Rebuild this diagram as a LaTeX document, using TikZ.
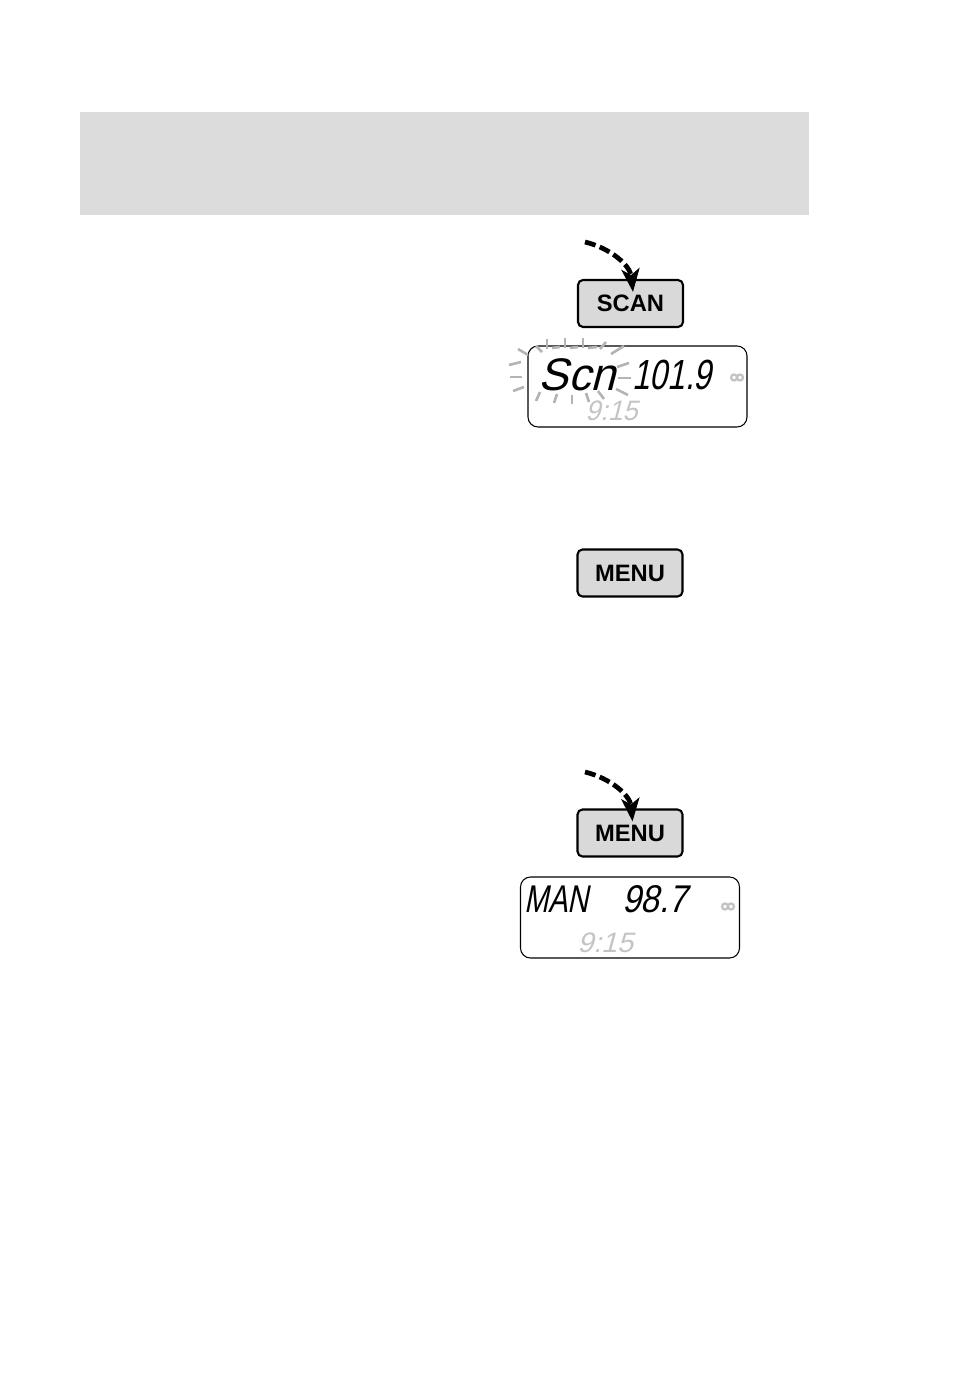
\documentclass[tikz,border=0pt]{standalone}
\usepackage{fontspec}
\usetikzlibrary{arrows.meta, positioning, calc}
\newfontfamily\btnfont{Liberation Sans}
\newfontfamily\lcdfont[FakeSlant=0.2,FakeStretch=0.75]{Liberation Sans}
\definecolor{banner}{HTML}{DCDCDC}
\definecolor{btnfill}{HTML}{D9D9D9}
\definecolor{dim}{HTML}{C4C4C4}
\definecolor{glow}{HTML}{B4B4B4}

\begin{document}
\begin{tikzpicture}[
    x=0.2mm, y=-0.2mm,
    button/.style={draw, line width=1.2pt, rounded corners=1mm, fill=btnfill, minimum width=21mm, minimum height=9.4mm, inner sep=0pt, font=\btnfont\bfseries\fontsize{13.5}{13.5}\selectfont},
    lcd/.style={draw, line width=0.6pt, rounded corners=2mm, minimum width=43.8mm, minimum height=16.2mm, inner sep=0pt},
    seg/.style={inner sep=0pt, anchor=base west},
    press/.style={->, line width=0.95mm, dash pattern=on 2.2mm off 0.9mm},
    ray/.style={glow, line width=1.5pt},
    stereo/.style={dim, line width=1.3pt},
    >={Stealth[length=4.6mm, width=3.6mm, inset=1.2mm]}
]
\useasboundingbox (0,0) rectangle (954,1398);
\fill[banner] (80,112) rectangle (809,215);

\node[button] (scan) at (630.5,303.5) {SCAN};
\node[lcd] (disp1) at (637.5,386.5) {};
\node[seg, font=\lcdfont\fontsize{26}{26}\selectfont, xscale=1.3] (scn) at (538,390) {Scn};
\node[seg, font=\lcdfont\fontsize{24}{24}\selectfont] (freq1) at (632,389) {101.9};
\node[seg, font=\lcdfont\fontsize{16}{16}\selectfont, text=dim, xscale=1.27] (time1) at (585,421) {9:15};
\draw[stereo] (734,377.5) circle (3) (740,377.5) circle (3);
\foreach \a/\b in {{518,349}/{528,355}, {509,365}/{521,362}, {510,377}/{522,377}, {513,391}/{524,387},
    {536,346}/{542,352}, {547,339}/{547,349}, {552,348}/{560,347}, {565,338}/{565,348},
    {570,348}/{578,347}, {583,338}/{583,348}, {588,348}/{597,347}, {600,349}/{606,342},
    {611,354}/{624,346}, {617,367}/{629,363}, {618,378}/{631,378}, {616,389}/{628,395},
    {536,401}/{540,392}, {554,403}/{557,394}, {572,404}/{572,395}, {589,402}/{586,393}, {604,399}/{598,391}}
  \draw[ray] (\a) -- (\b);
\coordinate (from1) at (585,242);
\draw[press] (from1) .. controls (610,248) and (630,265) .. ([xshift=0.5mm, yshift=-2.6mm]scan.north);

\node[button] (menu1) at (630,573) {MENU};

\node[button] (menu2) at (630,833) {MENU};
\node[lcd] (disp2) at (630,917.5) {};
\node[seg, font=\lcdfont\fontsize{22}{22}\selectfont] (mode2) at (524,912) {MAN};
\node[seg, font=\lcdfont\fontsize{22}{22}\selectfont, xscale=1.15] (freq2) at (622,912) {98.7};
\node[seg, font=\lcdfont\fontsize{16}{16}\selectfont, text=dim, xscale=1.35] (time2) at (577,952) {9:15};
\draw[stereo] (725,906.5) circle (3) (731,906.5) circle (3);
\coordinate (from2) at (585,772);
\draw[press] (from2) .. controls (610,778) and (630,795) .. ([xshift=0.5mm, yshift=-2.6mm]menu2.north);
\end{tikzpicture}
\end{document}
